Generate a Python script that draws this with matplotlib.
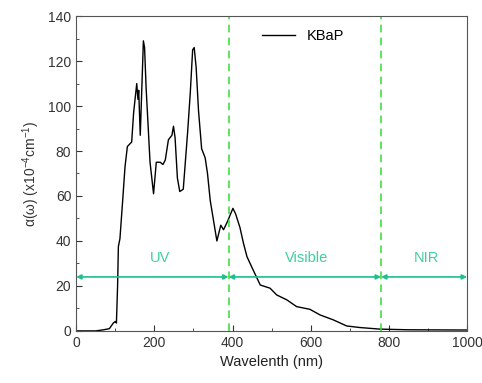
import matplotlib
matplotlib.use('Agg')
import matplotlib.pyplot as plt
from matplotlib.ticker import MultipleLocator

plt.rcParams['font.family'] = ['Liberation Sans', 'DejaVu Sans']
plt.rcParams['mathtext.fontset'] = 'custom'
plt.rcParams['mathtext.rm'] = 'Liberation Sans'
plt.rcParams['mathtext.it'] = 'Liberation Sans'

# absorption spectrum
wavelength = [0, 50, 70, 85, 95, 100, 103, 106, 108, 112, 119, 125, 131, 142, 147, 155,
              158, 160, 164, 168, 172, 175, 179, 189, 198, 205, 215, 222, 228, 236,
              245, 249, 253, 259, 265, 274, 285, 292, 298, 302, 307, 313, 321, 330,
              336, 343, 360, 370, 377, 387, 401, 408, 419, 428, 437, 453, 471, 496, 513,
              539, 564, 598, 624, 658, 692, 726, 777, 850, 1000]
alpha = [0, 0, 0.5, 1.0, 3.5, 4.2, 3.5, 20, 37.5, 41, 58, 73, 82, 84, 97, 110,
         103, 107, 87, 108, 129, 126, 108, 75, 61, 75, 75, 74, 76, 85,
         87, 91, 86, 68, 62, 63, 88, 106, 125, 126, 117, 98, 81, 77,
         70, 58, 40, 47, 45, 48.6, 54.5, 52, 46, 39, 33, 27, 20.4, 19, 16,
         13.8, 10.8, 9.6, 7.1, 4.9, 2.2, 1.5, 0.8, 0.5, 0.4]

bounds = [0, 390, 780, 1000]
regions = ['UV', 'Visible', 'NIR']
label_x = [215, 590, 897]
arrow_y = 24
teal = '#1dbf8e'

fig = plt.figure(figsize=(4.82, 3.83), dpi=100)
ax = fig.add_axes([0.158, 0.136, 0.811, 0.822])

ax.plot(wavelength, alpha, color='black', linewidth=1.0, label='KBaP')

for b in bounds[1:3]:
    ax.axvline(b, color='#33dd33', linestyle=(0, (5, 3.5)), linewidth=1.1)

for i in range(3):
    ax.annotate('', xy=(bounds[i], arrow_y), xytext=(bounds[i + 1], arrow_y),
                arrowprops=dict(arrowstyle='<|-|>', color=teal, lw=1.2,
                                mutation_scale=7, shrinkA=0, shrinkB=0))
    ax.text(label_x[i], 32.5, regions[i], color='#3fcf9f', fontsize=10.5,
            ha='center', va='center')

ax.set_xlim(0, 1000)
ax.set_ylim(0, 140)
ax.xaxis.set_major_locator(MultipleLocator(200))
ax.xaxis.set_minor_locator(MultipleLocator(100))
ax.yaxis.set_major_locator(MultipleLocator(20))
ax.yaxis.set_minor_locator(MultipleLocator(10))
ax.tick_params(which='both', direction='in', colors='#333333', labelsize=10)
ax.tick_params(which='major', length=4)
ax.tick_params(which='minor', length=2.5)
for s in ax.spines.values():
    s.set_color('#555555')

ax.set_xlabel('Wavelenth (nm)', fontsize=10.5, color='#222222')
ax.set_ylabel(r'α(ω) (x10$^{-4}$cm$^{-1}$)', fontsize=10, color='#333333')

ax.legend(loc='upper center', bbox_to_anchor=(0.58, 1.0), frameon=False,
          fontsize=10.5, handlelength=2.3)

fig.savefig('out.png', dpi=100)
